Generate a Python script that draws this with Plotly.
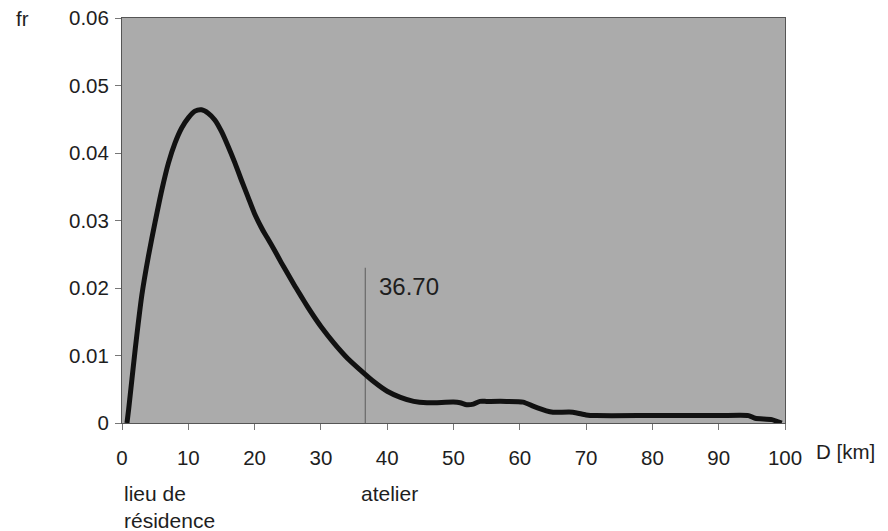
import plotly.graph_objects as go

# distance (km) and frequency
dist = [0.75, 1, 2, 3, 4, 5, 6, 7, 8, 9, 10, 11, 12, 13, 14, 15, 16, 17, 18, 19,
        20, 21, 21.5, 22, 23, 24, 25, 26, 27, 28, 29, 30, 32, 34, 36, 38, 40, 42,
        44, 46, 50, 51, 52, 53, 54, 55, 58, 60.5, 62, 64, 65, 68, 70, 71.5, 80, 90,
        94.5, 95.5, 98, 99.5]
freq = [0.0, 0.002, 0.011, 0.019, 0.0248, 0.0298, 0.0345, 0.0385, 0.0415, 0.0437,
        0.0452, 0.0462, 0.0464, 0.0459, 0.0449, 0.0432, 0.0410, 0.0386, 0.0360,
        0.0335, 0.0310, 0.0290, 0.0281, 0.0273, 0.0256, 0.0238, 0.0221, 0.0204,
        0.0188, 0.0172, 0.0157, 0.0143, 0.0118, 0.0096, 0.0078, 0.0061, 0.0047,
        0.0038, 0.0032, 0.0030, 0.0031, 0.0030, 0.0027, 0.0028, 0.0032, 0.0032,
        0.0032, 0.0031, 0.0025, 0.0018, 0.0016, 0.0016, 0.0012, 0.0011, 0.0011,
        0.0011, 0.0011, 0.0007, 0.0005, 0.0]

marker_x = 36.70
marker_top = 0.023
x_ticks = [0, 10, 20, 30, 40, 50, 60, 70, 80, 90, 100]
y_ticks = [0, 0.01, 0.02, 0.03, 0.04, 0.05, 0.06]
y_labels = ["0", "0.01", "0.02", "0.03", "0.04", "0.05", "0.06"]

font = "Liberation Sans, Arial, sans-serif"
tick_size = 20.5
text_color = "#1e1e1e"

fig = go.Figure()
fig.add_trace(go.Scatter(x=[marker_x, marker_x], y=[0, marker_top], mode="lines",
                         line=dict(color="#6e6e6e", width=1.3), hoverinfo="skip"))
fig.add_trace(go.Scatter(x=dist, y=freq, mode="lines",
                         line=dict(color="#111111", width=5, shape="spline", smoothing=0.6)))

fig.add_annotation(x=38.5, y=0.0202, text=f"{marker_x:.2f}", showarrow=False,
                   xanchor="left", yanchor="middle", font=dict(size=24, color=text_color))
fig.add_annotation(xref="paper", yref="paper", x=-0.15, y=1.0, text="fr", showarrow=False,
                   xanchor="center", yanchor="middle", font=dict(size=tick_size, color=text_color))
fig.add_annotation(xref="paper", yref="paper", x=1.044, y=-0.071, text="D [km]", showarrow=False,
                   xanchor="left", yanchor="middle", font=dict(size=tick_size, color=text_color))
fig.add_annotation(xref="x", yref="paper", x=0, y=-0.14, text="lieu de<br>résidence",
                   showarrow=False, xanchor="left", yanchor="top", align="left",
                   font=dict(size=21, color=text_color))
fig.add_annotation(xref="x", yref="paper", x=35.8, y=-0.14, text="atelier",
                   showarrow=False, xanchor="left", yanchor="top", align="left",
                   font=dict(size=21, color=text_color))

fig.update_layout(
    width=880, height=523,
    margin=dict(l=114, r=103, t=10, b=108, autoexpand=False),
    paper_bgcolor="white", plot_bgcolor="#ababab",
    showlegend=False,
    font=dict(family=font, size=tick_size, color=text_color),
    xaxis=dict(range=[0, 100], tickvals=x_ticks, ticks="outside", ticklen=6,
               tickcolor="#777", showgrid=False, zeroline=False, showline=True,
               linecolor="#555", linewidth=1, mirror=True, tickfont=dict(size=tick_size),
               ticklabelstandoff=10, ticklabeloverflow="allow", automargin=False),
    yaxis=dict(range=[0, 0.06], tickvals=y_ticks, ticktext=y_labels, ticks="outside",
               ticklen=6, tickcolor="#777", showgrid=False, zeroline=False, showline=True,
               linecolor="#555", linewidth=1, mirror=True, tickfont=dict(size=tick_size),
               ticklabelstandoff=2, ticklabeloverflow="allow", automargin=False),
)

fig.write_html("out.html")
